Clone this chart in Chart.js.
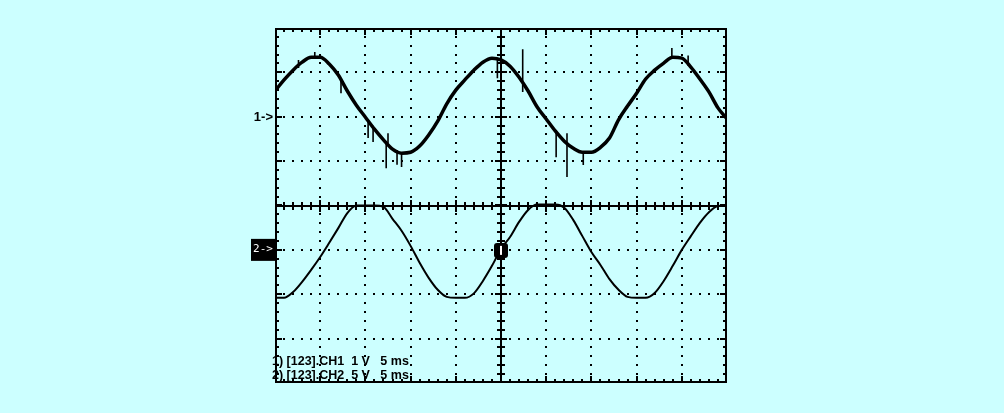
<!DOCTYPE html>
<html><head><meta charset="utf-8">
<script src="https://cdn.jsdelivr.net/npm/chart.js@4/dist/chart.umd.min.js"></script>
<style>html,body{margin:0;padding:0;background:#ccffff;}#wrap{width:1004px;height:413px;}</style>
</head><body><div id="wrap"><canvas id="c" width="1004" height="413"></canvas></div>
<script>
// time axis in ms (5 ms / division, 10 divisions), vertical axis in divisions (-4..4)
const timeMs = [0,1,2,3,4,5,6,7,8,9,10,11,12,13,14,15,16,17,18,19,20,21,22,23,24,25,26,27,28,29,30,31,32,33,34,35,36,37,38,39,40,41,42,43,44,45,46,47,48,49,50];
const ch1Div = [2.58,2.83,3.05,3.23,3.34,3.34,3.19,2.94,2.58,2.26,1.99,1.72,1.48,1.27,1.18,1.20,1.34,1.59,1.90,2.29,2.60,2.83,3.05,3.23,3.32,3.28,3.14,2.89,2.58,2.22,1.95,1.68,1.45,1.29,1.20,1.20,1.31,1.52,1.93,2.24,2.53,2.85,3.05,3.21,3.34,3.32,3.12,2.85,2.56,2.20,1.95];
const ch2Div = [-2.08,-2.08,-1.95,-1.72,-1.45,-1.16,-0.84,-0.51,-0.17,0.0,0.0,0.0,-0.03,-0.30,-0.57,-0.91,-1.29,-1.63,-1.90,-2.06,-2.08,-2.08,-1.98,-1.70,-1.36,-0.98,-0.71,-0.37,-0.10,0.02,0.02,0.02,-0.05,-0.33,-0.69,-1.05,-1.34,-1.66,-1.90,-2.06,-2.08,-2.08,-1.97,-1.70,-1.36,-1.00,-0.69,-0.39,-0.15,-0.01,0.0];
// noise spikes on channel 1
const spikeTime = [2.6,4.4,7.3,10.3,10.85,12.3,12.5,13.5,14.0,24.6,27.4,31.1,32.3,34.1,43.9,45.7];
const spikeFrom = [3.10,3.34,2.85,1.95,1.80,1.45,1.40,1.25,1.20,3.32,3.52,1.70,1.63,1.20,3.34,3.15];
const spikeTo   = [3.28,3.46,2.53,1.52,1.43,0.84,1.63,0.92,0.87,2.87,2.56,1.09,0.64,0.91,3.55,3.38];
// graticule
const xMin = 0, xMax = 50, xMajorStep = 5, xMinorStep = 1;
const yMin = -4, yMax = 4, yMajorStep = 1, yMinorStep = 0.2;
const xCenter = 25, yCenter = 0;
const ch1Ref = 2, ch2Ref = -1;
const triggerTime = 25, triggerLevel = -1;
const ch1Label = '1->', ch2Label = '2->';
const infoLines = ['1) [123].CH1  1 V   5 ms', '2) [123].CH2  5 V   5 ms'];

const ch1Data = timeMs.map((t,i)=>({x:t,y:ch1Div[i]}));
const ch2Data = timeMs.map((t,i)=>({x:t,y:ch2Div[i]}));
const spikeData = [];
spikeTime.forEach((t,i)=>{spikeData.push({x:t,y:spikeFrom[i]},{x:t,y:spikeTo[i]},{x:t,y:null});});

const scopePlugin = {
  id:'scope',
  beforeDatasetsDraw(chart){
    const {ctx, chartArea:a, scales:{x,y}} = chart;
    ctx.save();
    ctx.fillStyle = '#000';
    const eps = 1e-6;
    // dotted grid
    for (let xv = xMin + xMajorStep; xv < xMax - eps; xv += xMajorStep) {
      if (Math.abs(xv - xCenter) < eps) continue;
      const px = Math.round(x.getPixelForValue(xv));
      for (let v = yMin + yMinorStep; v < yMax - eps; v += yMinorStep) {
        const py = Math.round(y.getPixelForValue(v));
        ctx.fillRect(px-1, py-1, 2, 2);
      }
    }
    for (let yv = yMin + yMajorStep; yv < yMax - eps; yv += yMajorStep) {
      if (Math.abs(yv - yCenter) < eps) continue;
      const py = Math.round(y.getPixelForValue(yv));
      for (let t = xMin + xMinorStep; t < xMax - eps; t += xMinorStep) {
        const px = Math.round(x.getPixelForValue(t));
        ctx.fillRect(px-1, py-1, 2, 2);
      }
    }
    // centre lines
    const cx = Math.round(x.getPixelForValue(xCenter));
    const cy = Math.round(y.getPixelForValue(yCenter));
    ctx.fillRect(a.left, cy-1, a.width, 2);
    ctx.fillRect(cx-1, a.top, 2, a.height);
    // ticks along x
    for (let t = xMin + xMinorStep; t < xMax - eps; t += xMinorStep) {
      const px = Math.round(x.getPixelForValue(t));
      const major = Math.abs(t/xMajorStep - Math.round(t/xMajorStep)) < eps;
      const L = major ? 7 : 4;
      ctx.fillRect(px-1, a.top, 2, L);
      ctx.fillRect(px-1, a.bottom-L, 2, L);
      const c = major ? 6 : 4;
      ctx.fillRect(px-1, cy-c, 2, 2*c);
    }
    // ticks along y
    for (let v = yMin + yMinorStep; v < yMax - eps; v += yMinorStep) {
      const py = Math.round(y.getPixelForValue(v));
      const major = Math.abs(v/yMajorStep - Math.round(v/yMajorStep)) < 1e-4;
      const L = major ? 7 : 4;
      ctx.fillRect(a.left, py-1, L, 2);
      ctx.fillRect(a.right-L, py-1, L, 2);
      const c = major ? 6 : 4;
      ctx.fillRect(cx-c, py-1, 2*c, 2);
    }
    // frame
    ctx.lineWidth = 2;
    ctx.strokeStyle = '#000';
    ctx.strokeRect(a.left+1, a.top+1, a.width-2, a.height-2);
    ctx.restore();
  },
  afterDatasetsDraw(chart){
    const {ctx, chartArea:a, scales:{x,y}} = chart;
    ctx.save();
    // channel 1 reference
    ctx.fillStyle = '#000';
    ctx.font = 'bold 13px "Liberation Sans", Arial, sans-serif';
    ctx.textAlign = 'right';
    ctx.textBaseline = 'middle';
    ctx.fillText(ch1Label, a.left-2, y.getPixelForValue(ch1Ref)+1);
    // channel 2 reference (inverted box)
    const p2 = y.getPixelForValue(ch2Ref);
    ctx.fillRect(a.left-24, p2-11, 24, 22);
    ctx.fillStyle = '#fff';
    ctx.font = '11px "DejaVu Sans Mono", monospace';
    ctx.textAlign = 'center';
    ctx.fillText(ch2Label, a.left-12, p2-1);
    // trigger marker
    const tx = x.getPixelForValue(triggerTime), ty = y.getPixelForValue(triggerLevel);
    ctx.fillStyle = '#000';
    ctx.beginPath();
    ctx.roundRect(tx-7, ty-7, 14, 15, 3);
    ctx.fill();
    ctx.fillStyle = '#fff';
    ctx.fillRect(Math.round(tx)-1, ty-4, 2, 9);
    // info text
    ctx.fillStyle = '#000';
    ctx.font = 'bold 12.5px "Liberation Sans", Arial, sans-serif';
    ctx.textAlign = 'left';
    ctx.textBaseline = 'middle';
    ctx.fillText(infoLines[0], a.left-3, a.bottom-21);
    ctx.fillText(infoLines[1], a.left-3, a.bottom-7);
    ctx.restore();
  }
};

new Chart(document.getElementById('c'), {
  type:'line',
  data:{datasets:[
    {label:'CH1', data:ch1Data, borderColor:'#000', borderWidth:3.5, pointRadius:0, tension:0.4, cubicInterpolationMode:'monotone'},
    {label:'CH1 spikes', data:spikeData, borderColor:'#000', borderWidth:1.6, pointRadius:0, spanGaps:false, tension:0},
    {label:'CH2', data:ch2Data, borderColor:'#000', borderWidth:2, pointRadius:0, cubicInterpolationMode:'monotone'}
  ]},
  options:{
    responsive:false, animation:false, devicePixelRatio:1,
    layout:{padding:{left:275, right:277, top:28, bottom:30}},
    plugins:{legend:{display:false}, tooltip:{enabled:false}},
    scales:{
      x:{type:'linear', min:xMin, max:xMax, display:false},
      y:{type:'linear', min:yMin, max:yMax, display:false}
    }
  },
  plugins:[scopePlugin]
});
</script></body></html>
